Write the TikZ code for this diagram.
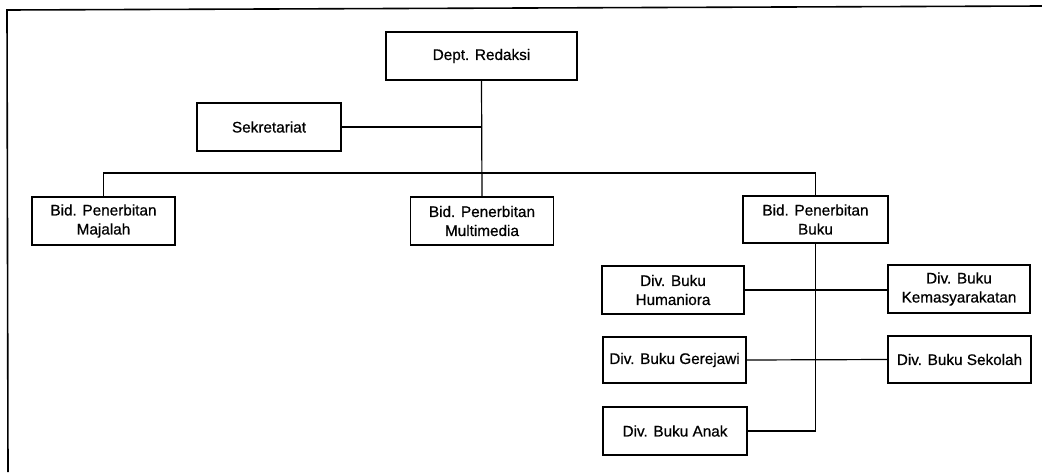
\documentclass[tikz,border=0pt]{standalone}
\usepackage{fontspec}
\setmainfont{Liberation Sans}
\newfontfamily\unitfont[FakeBold=0.6]{Liberation Sans}
\begin{document}
\begin{tikzpicture}[x=1pt,y=-1pt,
  unit/.style={draw, line width=1.5pt, align=center, inner sep=0pt,
    font=\unitfont\fontsize{15.3}{19}\selectfont},
  link/.style={line width=1.2pt},
  frameline/.style={line width=1.6pt}]
\useasboundingbox (0,0) rectangle (1042,472);

% frame edges (top and left only)
\coordinate (ftl) at (7,10);
\coordinate (ftr) at (1042,6);
\coordinate (fbl) at (8,472);
\draw[frameline] (ftr) -- (ftl) -- (fbl);

% department and staff
\node[unit, minimum width=191pt, minimum height=48pt] (dept) at (481.5,56) {Dept. Redaksi};
\node[unit, minimum width=144pt, minimum height=48pt] (sek) at (269,127) {Sekretariat};

% fields
\node[unit, minimum width=143pt, minimum height=48pt] (maj) at (103.5,221) {Bid. Penerbitan\\Majalah};
\node[unit, minimum width=143pt, minimum height=48pt] (mm) at (482,221) {Bid. Penerbitan\\Multimedia};
\node[unit, minimum width=145pt, minimum height=47pt] (buku) at (815.5,219.5) {Bid. Penerbitan\\Buku};

% book divisions
\node[unit, minimum width=142pt, minimum height=48pt] (hum) at (673,290) {Div. Buku\\Humaniora};
\node[unit, minimum width=142pt, minimum height=48pt] (kem) at (959,289) {Div. Buku\\Kemasyarakatan};
\node[unit, minimum width=143pt, minimum height=46pt] (ger) at (674.5,360) {Div. Buku Gerejawi};
\node[unit, minimum width=143pt, minimum height=47pt] (skl) at (959.5,359.5) {Div. Buku Sekolah};
\node[unit, minimum width=144pt, minimum height=48pt] (anak) at (675,431) {Div. Buku Anak};

% main spine and staff link
\draw[link] (dept.south) -- (mm.north);
\draw[link, line width=1.5pt] (sek.east) -- (sek.east -| dept.south);

% bus to the fields
\coordinate (busy) at (0,173);
\draw[link, line width=1.4pt] (maj.north) |- (busy -| buku.north) -- (buku.north);

% book spine and divisions
\draw[link] (buku.south) -- (buku.south |- anak.east) -- (anak.east);
\draw[link] (hum.east) -- (hum.east -| kem.west);
\draw[link] (ger.east) -- (skl.west);
\end{tikzpicture}
\end{document}
